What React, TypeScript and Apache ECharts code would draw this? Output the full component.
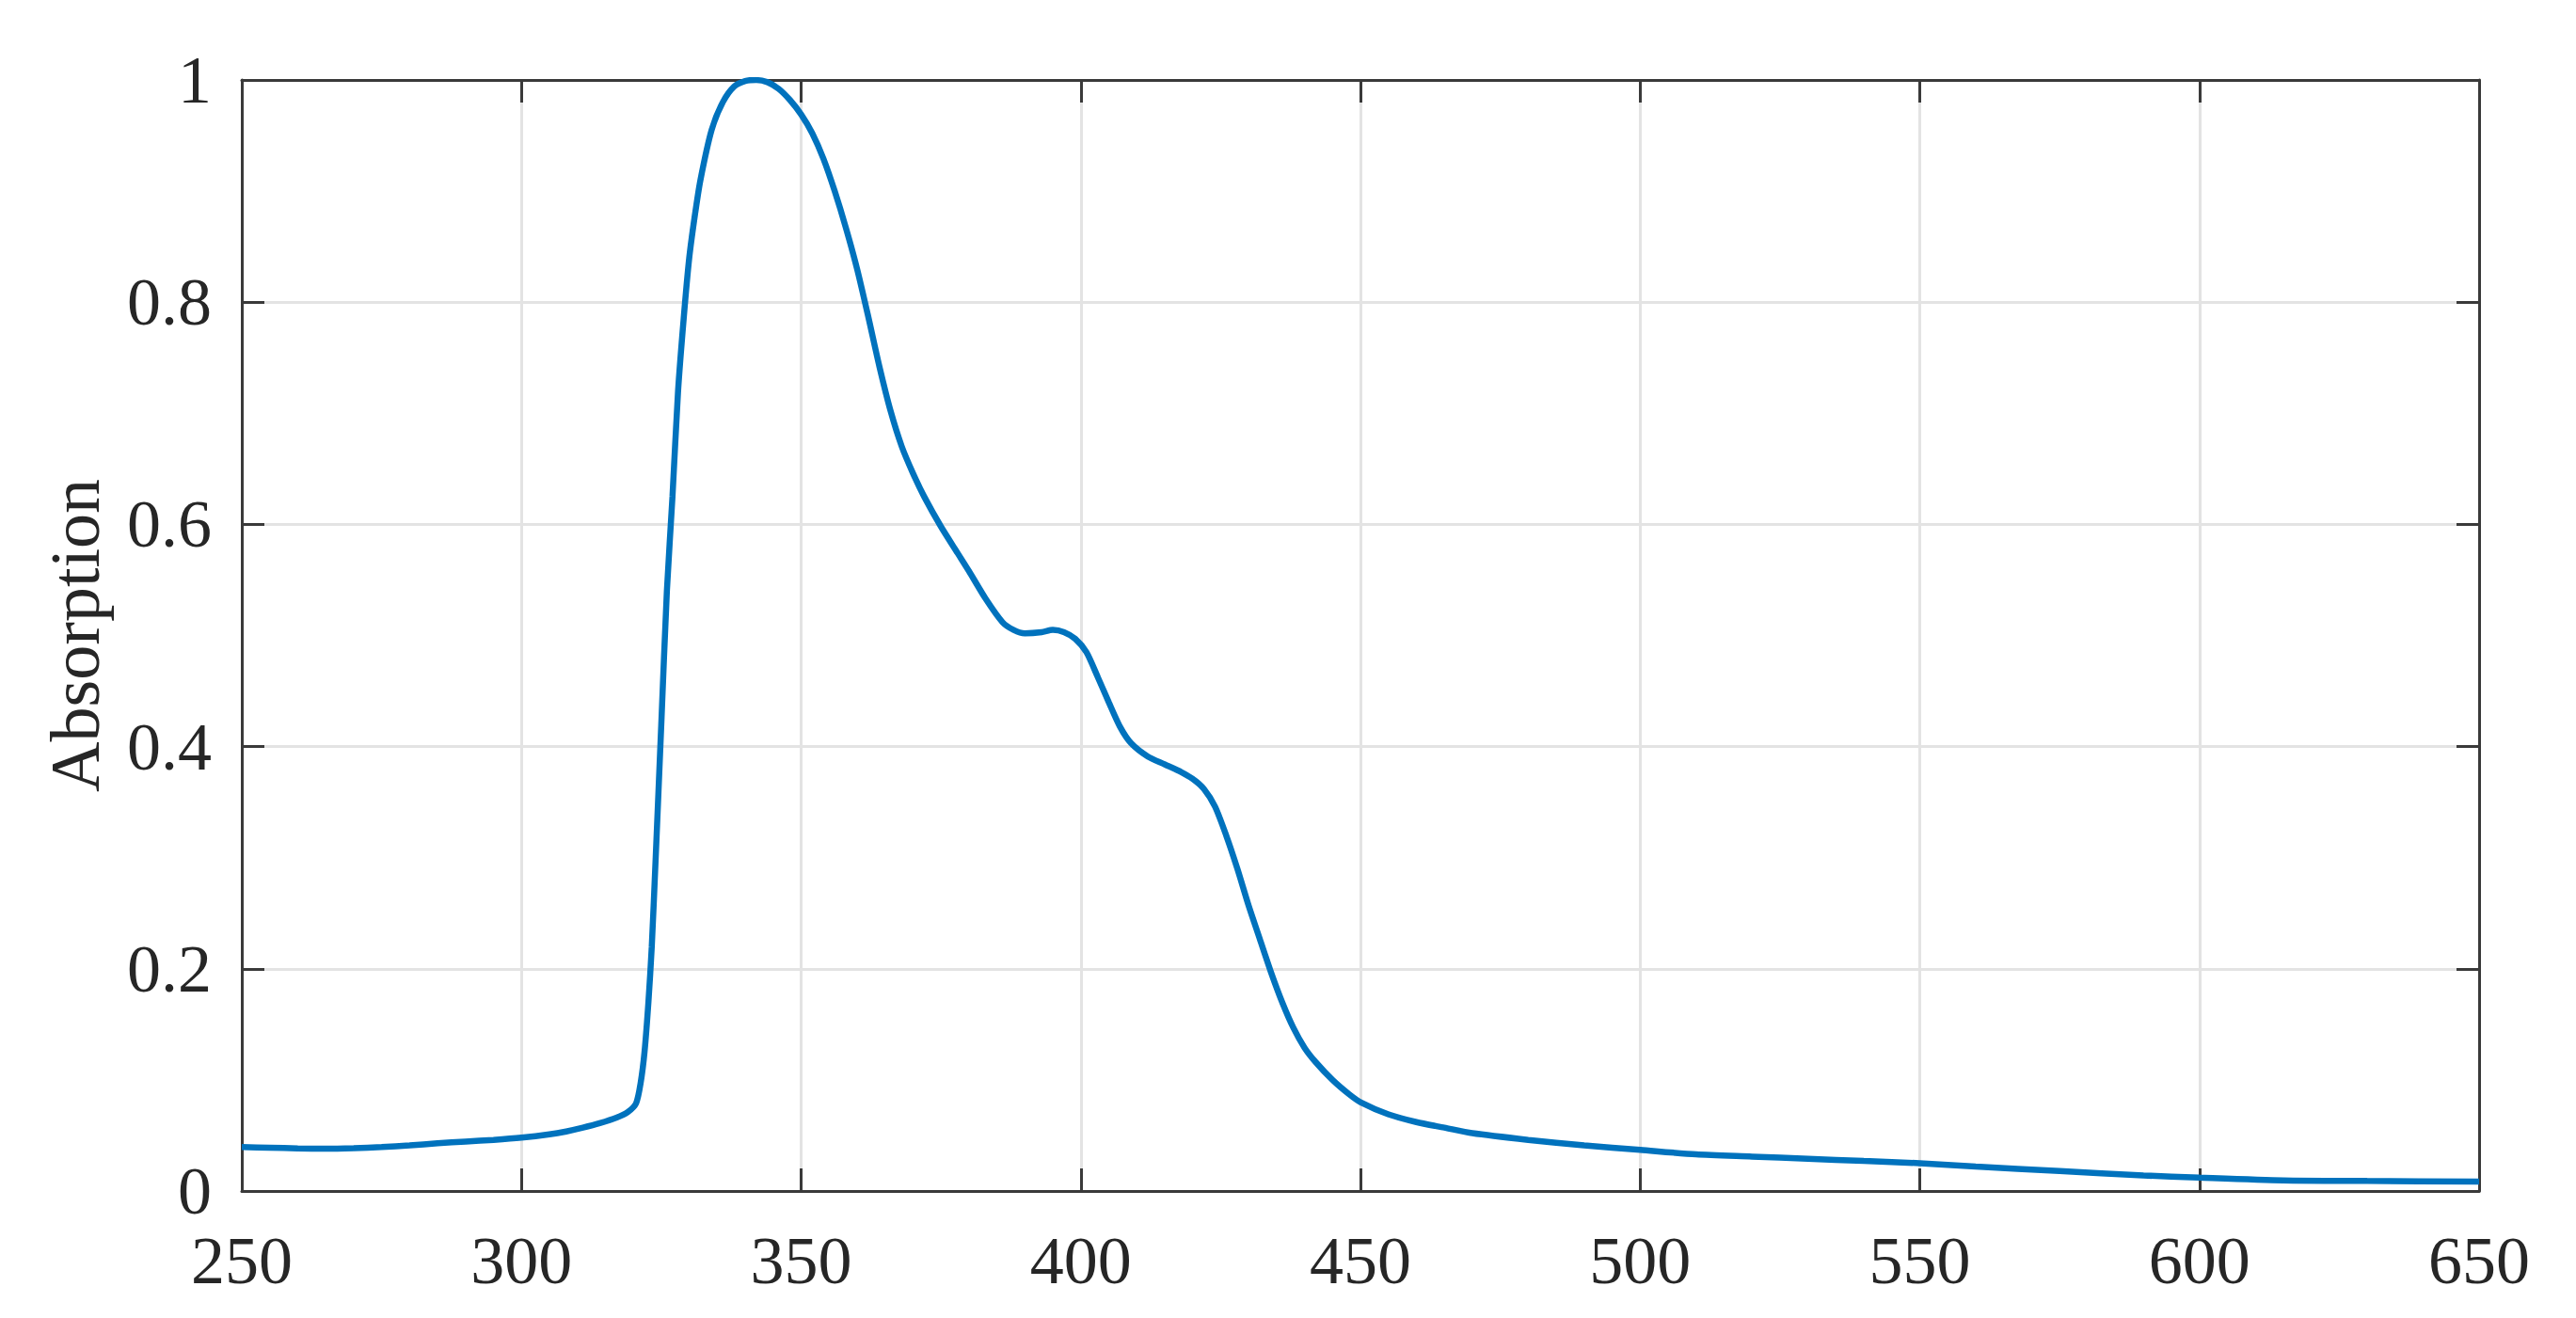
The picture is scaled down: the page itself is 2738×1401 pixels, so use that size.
import React, { useEffect, useRef } from "react";
import * as echarts from "echarts";

const wavelengths = [
  250, 255, 260, 265, 270, 275, 280, 285, 290, 295, 300, 305, 308, 311, 314, 317, 319, 320.5, 321.3, 322,
  322.7, 323.3, 324, 325, 326, 327, 328, 329, 330, 331, 332, 334, 336, 338, 340, 342, 344, 346, 348, 350,
  352, 354, 356, 358, 360, 362, 364, 366, 368, 370, 372, 375, 378, 380, 383, 386, 388, 390, 393, 395,
  397, 399, 401, 403, 405, 407, 409, 412, 415, 418, 420, 422, 424, 426, 428, 430, 432, 434, 436, 438, 440,
  442, 445, 448, 450, 455, 460, 465, 470, 480, 490, 500, 510, 520, 530, 540, 550, 560, 575, 590, 600,
  615, 630, 650,
];

const absorption = [
  0.0395, 0.039, 0.0383, 0.038, 0.0385, 0.0395, 0.041, 0.043, 0.0445, 0.046, 0.048, 0.051, 0.0536, 0.057, 0.061, 0.066, 0.071, 0.079, 0.097, 0.125,
  0.17, 0.22, 0.3, 0.42, 0.54, 0.625, 0.72, 0.785, 0.84, 0.878, 0.91, 0.955, 0.98, 0.994, 0.999, 1.0, 0.998, 0.992, 0.982, 0.969,
  0.952, 0.929, 0.9, 0.867, 0.83, 0.787, 0.742, 0.702, 0.67, 0.646, 0.625, 0.598, 0.574, 0.558, 0.533, 0.512, 0.505, 0.502, 0.503, 0.505,
  0.503, 0.497, 0.485, 0.463, 0.44, 0.418, 0.403, 0.391, 0.384, 0.377, 0.371, 0.362, 0.346, 0.32, 0.29, 0.257, 0.227, 0.197, 0.17, 0.147, 0.129,
  0.116, 0.1, 0.087, 0.08, 0.069, 0.062, 0.057, 0.052, 0.046, 0.041, 0.037, 0.033, 0.031, 0.029, 0.027, 0.025, 0.022, 0.018, 0.014, 0.012,
  0.0095, 0.009, 0.0085,
];

const X_MIN = 250;
const X_MAX = 650;
const X_STEP = 50;
const Y_MIN = 0;
const Y_MAX = 1;
const Y_STEP = 0.2;
const Y_NAME = "Absorption";

export default function App() {
  const ref = useRef<HTMLDivElement>(null);

  useEffect(() => {
    if (!ref.current) return;
    const chart = echarts.init(ref.current, undefined, { renderer: "svg" });
    const font = "Liberation Serif";
    const axisColor = "#3a3a3a";
    const gridColor = "#e3e3e3";
    const tick = { show: true, inside: true, length: 24, lineStyle: { color: axisColor, width: 3 } };
    const line = { show: true, onZero: false, lineStyle: { color: axisColor, width: 3 } };

    chart.setOption({
      animation: false,
      backgroundColor: "#ffffff",
      grid: { left: 257, right: 103, top: 85, bottom: 135, containLabel: false },
      xAxis: [
        {
          type: "value",
          min: X_MIN,
          max: X_MAX,
          interval: X_STEP,
          axisLine: line,
          axisTick: tick,
          axisLabel: { color: "#262626", fontFamily: font, fontSize: 72, margin: 38 },
          splitLine: { show: true, lineStyle: { color: gridColor, width: 3 } },
        },
        {
          type: "value",
          position: "top",
          min: X_MIN,
          max: X_MAX,
          interval: X_STEP,
          axisLine: line,
          axisTick: tick,
          axisLabel: { show: false },
          splitLine: { show: false },
        },
      ],
      yAxis: [
        {
          type: "value",
          min: Y_MIN,
          max: Y_MAX,
          interval: Y_STEP,
          name: Y_NAME,
          nameLocation: "middle",
          nameGap: 140,
          nameTextStyle: { color: "#262626", fontFamily: font, fontSize: 74 },
          axisLine: line,
          axisTick: tick,
          axisLabel: { color: "#262626", fontFamily: font, fontSize: 72, margin: 32 },
          splitLine: { show: true, lineStyle: { color: gridColor, width: 3 } },
        },
        {
          type: "value",
          position: "right",
          min: Y_MIN,
          max: Y_MAX,
          interval: Y_STEP,
          axisLine: line,
          axisTick: tick,
          axisLabel: { show: false },
          splitLine: { show: false },
        },
      ],
      series: [
        {
          type: "line",
          data: wavelengths.map((w, i) => [w, absorption[i]]),
          showSymbol: false,
          smooth: 0.25,
          lineStyle: { color: "#0072BD", width: 6.5 },
          z: 5,
        },
      ],
    });
    return () => chart.dispose();
  }, []);

  return (
    <div
      ref={ref}
      style={{ position: "fixed", left: 0, top: 0, width: 2738, height: 1401, background: "#fff" }}
    />
  );
}
